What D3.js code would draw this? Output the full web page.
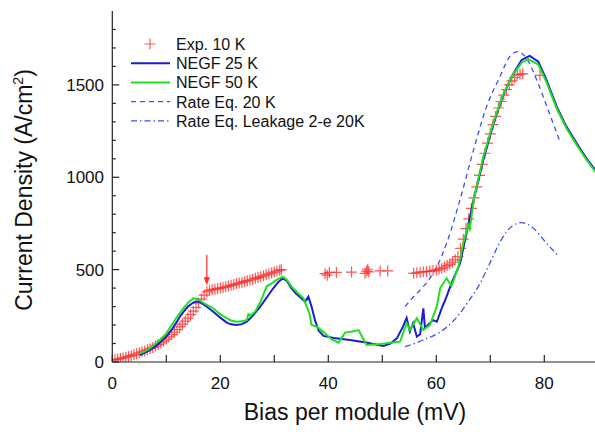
<!DOCTYPE html>
<html>
<head>
<meta charset="utf-8">
<script src="https://cdn.jsdelivr.net/npm/d3@7"></script>
<style>
  body { margin: 0; background: #fff; }
  svg { display: block; font-family: "Liberation Sans", Arial, sans-serif; }
</style>
</head>
<body>
<div id="chart"></div>
<script>
// Data: [bias (mV), current density (A/cm^2)]
const exp10K = [
  [0,10],[0.5,13],[1,16],[1.5,19],[2,22],[2.5,26],[3,30],[3.5,34],[4,39],[4.5,44],
  [5,50],[5.5,55],[6,60],[6.5,66],[7,72],[7.5,79],[8,86],[8.5,94],[9,103],[9.5,113],
  [10,124],[10.5,136],[11,148],[11.5,161],[12,175],[12.5,190],[13,205],[13.5,221],[14,238],[14.5,256],
  [15,275],[15.5,295],[16,318],[16.5,340],[17,362],[17.5,380],[18,388],[18.5,391],[19,394],[19.5,397],
  [20,400],[20.5,403],[21,407],[21.5,411],[22,415],[22.5,419],[23,423],[23.5,427],[24,431],[24.5,435],
  [25,440],[25.5,444],[26,448],[26.5,453],[27,457],[27.5,462],[28,467],[28.5,472],[29,477],[29.5,482],
  [30,487],[30.5,492],[31,497],[31.3,500],
  [39.4,478],[39.8,470],[40.2,485],[41.5,485],[44.3,487],[46.8,480],[47.1,492],[47.3,502],[47.5,488],[49.6,493],[51,493],
  [55.8,480],[56.4,483],[57,486],[57.6,488],[58.2,490],[58.8,492],[59.4,495],[60,497],[60.5,502],[61,507],
  [61.5,514],[62,522],[62.5,530],[63,540],[63.5,553],[64,570],[64.5,615],[65,665],[65.5,722],[66,775],
  [66.5,832],[67,888],[67.5,948],[68,1010],[68.5,1070],[69,1130],[69.5,1185],[70,1235],[70.5,1285],[71,1330],
  [71.5,1375],[72,1410],[72.5,1445],[73,1475],[73.5,1500],[74,1522],[74.5,1540],[75,1553],[75.5,1558],[76,1560],
  [79.2,1552]
];

const negf25K = [
  [5.1,38],[6,50],[7,65],[8,85],[9,110],[10,137],[11,175],[12,220],[12.5,245],[13,265],
  [14,300],[15,322],[15.5,328],[16.2,325],[17,310],[18,288],[18.7,272],[20,240],[21.2,213],[22,204],
  [23,200],[24,205],[24.9,218],[26,250],[27.4,300],[28.5,345],[29.8,399],[30.8,435],[31.6,453],[32.3,440],
  [33.2,399],[34,370],[34.8,350],[35.7,326],[36.3,354],[36.9,300],[37.5,230],[38.2,170],[39.1,141],[41,130],
  [44,119],[47,105],[50.2,87],[51.5,100],[52.7,128],[53.8,190],[54.5,238],[55.1,164],[55.7,210],[56.4,137],
  [57,150],[57.6,290],[57.9,184],[58.6,205],[59.4,227],[60.1,218],[61,290],[61.9,354],[62.8,426],[64.4,534],
  [65.6,698],[66.9,877],[68.7,1094],[70.6,1292],[72.4,1446],[74.3,1563],[75.8,1635],[77.3,1657],[78.9,1626],[80.4,1527],
  [82.3,1382],[84.1,1274],[86,1184],[87.8,1103],[89.4,1040],[90,1020]
];

const negf50K = [
  [5.1,45],[6,58],[7,75],[8,100],[9,125],[10,155],[11,200],[12,245],[12.5,264],[13,285],
  [14,320],[15,345],[15.8,340],[17,318],[18.7,291],[20,258],[21.2,237],[22,225],[23,218],[24,220],
  [24.9,227],[25.2,260],[25.6,250],[26.5,275],[27.5,330],[28.6,410],[29.5,425],[30.4,444],[31.6,462],[32.3,445],
  [33.2,408],[34.3,375],[35.4,345],[36.5,264],[36.9,200],[37.9,191],[39.4,155],[40.5,125],[41.9,105],[43.1,159],
  [44.5,165],[45.6,173],[47.1,92],[49.6,97],[53.3,110],[54.5,210],[55.1,173],[56.4,237],[57.6,173],[58.8,200],
  [60.1,300],[60.7,399],[61.9,453],[62.8,410],[64.1,516],[65,643],[65.9,742],[66.2,720],[67,890],[68.7,1110],
  [70.6,1300],[72.4,1450],[74.3,1560],[75.8,1620],[77,1639],[78.9,1610],[80.4,1515],[82.3,1372],[84.1,1265],[86,1175],
  [87.8,1095],[89.4,1032],[90,1012]
];

const rateEq20K = [
  [54.2,300],[56,360],[57.6,408],[60,510],[62,650],[64.4,880],[66.9,1148],[69.3,1382],[71.8,1545],[73.6,1653],
  [75.2,1680],[76.7,1644],[78.6,1527],[80.7,1365],[82.9,1193]
];

const rateEqLeak = [
  [54.2,83],[56,100],[58,125],[60,150],[62,190],[64,250],[66,330],[68,420],[70,540],[72,660],
  [74,735],[75.8,754],[78,724],[80.4,643],[82.6,574]
];

const xTicks = [0, 10, 20, 30, 40, 50, 60, 70, 80, 90];
const xLabels = [0, 20, 40, 60, 80];
const yTicks = d3.range(0, 1900, 100);
const yLabels = [0, 500, 1000, 1500];
const arrowAt = { bias: 17.5, from: 580, to: 415 };

const W = 595, H = 432;
const x = d3.scaleLinear().domain([0, 90]).range([112.3, 598.3]);
const y = d3.scaleLinear().domain([0, 1900]).range([362, 11]);

const svg = d3.select("#chart").append("svg")
  .attr("width", W).attr("height", H);

svg.append("defs").append("clipPath").attr("id", "plot")
  .append("rect").attr("x", x(0)).attr("y", y(1900))
  .attr("width", W - x(0)).attr("height", y(0) - y(1900));

const plot = svg.append("g").attr("clip-path", "url(#plot)");
const line = d3.line().x(d => x(d[0])).y(d => y(d[1]));

const blue = "#1b1bd8", green = "#1ee01e", lightBlue = "#3f4ff0", red = "#ff2a2a";
const plusPath = "M-5.5,0H5.5M0,-5.5V5.5";

// rate equation curves
plot.append("path").datum(rateEq20K)
  .attr("d", line.curve(d3.curveMonotoneX))
  .attr("fill", "none").attr("stroke", lightBlue).attr("stroke-width", 1.3)
  .attr("stroke-dasharray", "5,4");
plot.append("path").datum(rateEqLeak)
  .attr("d", line.curve(d3.curveMonotoneX))
  .attr("fill", "none").attr("stroke", lightBlue).attr("stroke-width", 1.3)
  .attr("stroke-dasharray", "6,3,1.5,3");

// experiment markers
plot.append("g").selectAll("path").data(exp10K).join("path")
  .attr("transform", d => `translate(${x(d[0])},${y(d[1])})`)
  .attr("d", plusPath)
  .attr("stroke", red).attr("stroke-opacity", 0.8).attr("stroke-width", 1.2);

// NEGF curves
plot.append("path").datum(negf25K)
  .attr("d", line.curve(d3.curveLinear))
  .attr("fill", "none").attr("stroke", blue).attr("stroke-width", 2);
plot.append("path").datum(negf50K)
  .attr("d", line.curve(d3.curveLinear))
  .attr("fill", "none").attr("stroke", green).attr("stroke-width", 2);

// arrow annotation
const ax = x(arrowAt.bias);
svg.append("line")
  .attr("x1", ax).attr("x2", ax)
  .attr("y1", y(arrowAt.from)).attr("y2", y(arrowAt.to) - 4)
  .attr("stroke", red).attr("stroke-width", 1.2);
svg.append("path")
  .attr("d", `M${ax - 3},${y(arrowAt.to) - 8}L${ax + 3},${y(arrowAt.to) - 8}L${ax},${y(arrowAt.to)}Z`)
  .attr("fill", red);

// axes
const axisColor = "#222";
svg.append("line").attr("x1", x(0)).attr("x2", W).attr("y1", y(0)).attr("y2", y(0))
  .attr("stroke", axisColor).attr("stroke-width", 1.2);
svg.append("line").attr("x1", x(0)).attr("x2", x(0)).attr("y1", y(0)).attr("y2", y(1900))
  .attr("stroke", axisColor).attr("stroke-width", 1.2);

svg.append("g").selectAll("line").data(xTicks).join("line")
  .attr("x1", d => x(d)).attr("x2", d => x(d))
  .attr("y1", y(0)).attr("y2", y(0) - 7)
  .attr("stroke", axisColor).attr("stroke-width", 1.2);
svg.append("g").selectAll("text").data(xLabels).join("text")
  .attr("x", d => x(d)).attr("y", 389)
  .attr("text-anchor", "middle").attr("font-size", 17).attr("fill", "#111")
  .text(d => d);

svg.append("g").selectAll("line").data(yTicks).join("line")
  .attr("x1", x(0)).attr("x2", d => x(0) + (d % 500 === 0 ? 7 : 3.5))
  .attr("y1", d => y(d)).attr("y2", d => y(d))
  .attr("stroke", axisColor).attr("stroke-width", 1.2);
svg.append("g").selectAll("text").data(yLabels).join("text")
  .attr("x", 104).attr("y", d => y(d) + 6)
  .attr("text-anchor", "end").attr("font-size", 17).attr("fill", "#111")
  .text(d => d);

svg.append("text")
  .attr("x", 355).attr("y", 420)
  .attr("text-anchor", "middle").attr("font-size", 23).attr("fill", "#111")
  .text("Bias per module (mV)");

const yt = svg.append("text")
  .attr("transform", "translate(32,190) rotate(-90)")
  .attr("text-anchor", "middle").attr("font-size", 23).attr("fill", "#111");
yt.append("tspan").text("Current Density (A/cm");
yt.append("tspan").attr("font-size", 14).attr("dy", -9).text("2");
yt.append("tspan").attr("dy", 9).text(")");

// legend
const legend = [
  { label: "Exp. 10 K", type: "marker", color: red },
  { label: "NEGF 25 K", type: "line", color: blue, width: 2 },
  { label: "NEGF 50 K", type: "line", color: green, width: 2 },
  { label: "Rate Eq. 20 K", type: "line", color: lightBlue, width: 1.3, dash: "5,4" },
  { label: "Rate Eq. Leakage 2-e 20K", type: "line", color: lightBlue, width: 1.3, dash: "6,3,1.5,3" }
];
const lg = svg.append("g").selectAll("g").data(legend).join("g")
  .attr("transform", (d, i) => `translate(0,${44 + i * 19.2})`);
lg.filter(d => d.type === "line").append("line")
  .attr("x1", 131).attr("x2", 170)
  .attr("stroke", d => d.color).attr("stroke-width", d => d.width)
  .attr("stroke-dasharray", d => d.dash || null);
lg.filter(d => d.type === "marker").append("path")
  .attr("transform", "translate(150,0)")
  .attr("d", plusPath)
  .attr("stroke", red).attr("stroke-opacity", 0.8).attr("stroke-width", 1.2);
lg.append("text")
  .attr("x", 176).attr("y", 6)
  .attr("font-size", 16).attr("fill", "#111")
  .text(d => d.label);
</script>
</body>
</html>
